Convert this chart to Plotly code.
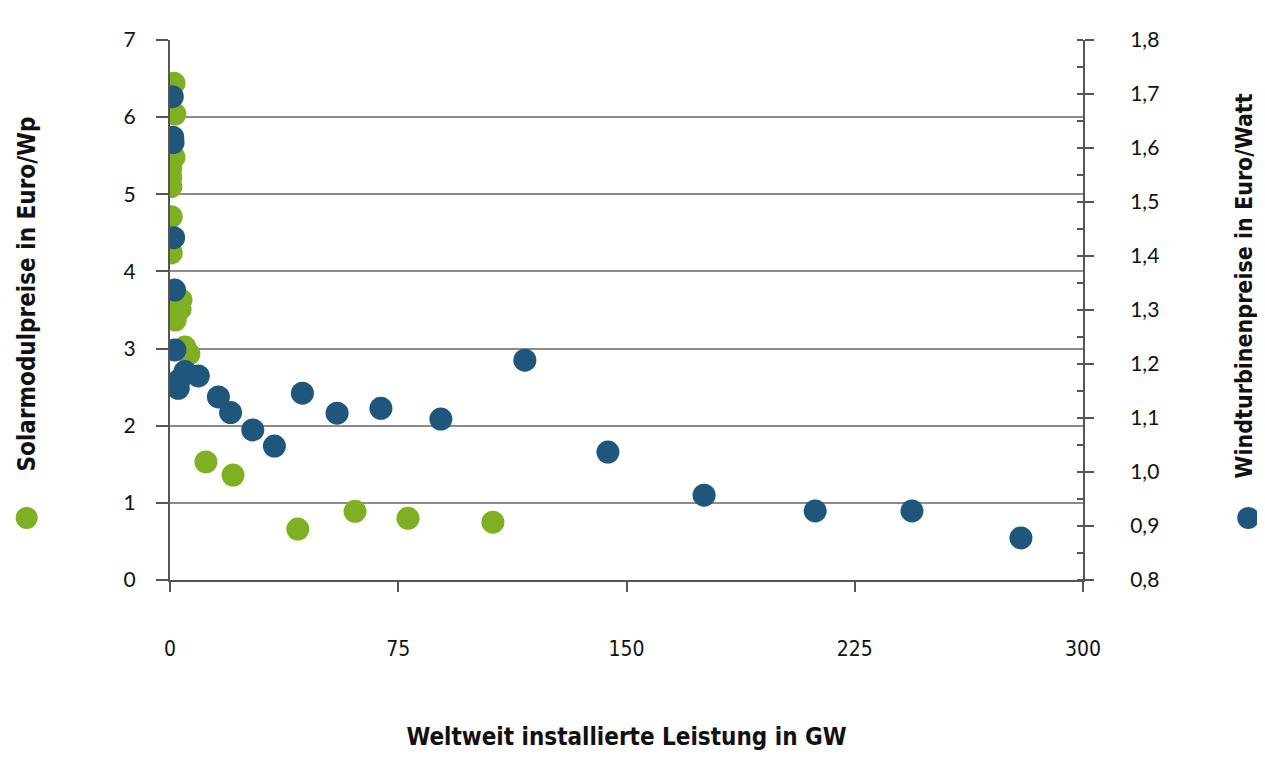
import plotly.graph_objects as go

# Solar module prices (left axis, Euro/Wp) vs. world installed capacity (GW)
solar_gw = [1.3, 1.6, 1.3, 0.2, 0.25, 0.3, 0.4, 0.4, 3.6, 3.3, 1.7, 4.9, 6.2, 11.8, 20.7, 42.0, 60.8, 78.2, 106.1]
solar_price = [6.44, 6.04, 5.48, 5.33, 5.22, 5.10, 4.71, 4.24, 3.63, 3.51, 3.37, 3.02, 2.93, 1.53, 1.36, 0.66, 0.89, 0.80, 0.75]

# Wind turbine prices (right axis, Euro/Watt) vs. world installed capacity (GW)
wind_gw = [0.75, 0.9, 1.0, 1.2, 1.5, 1.6, 2.7, 3.0, 4.9, 9.3, 15.9, 19.9, 27.2, 34.3, 43.5, 54.9, 69.3, 89.0, 116.6, 143.9, 175.5, 212.0, 243.8, 279.6]
wind_price = [1.695, 1.62, 1.61, 1.434, 1.337, 1.226, 1.155, 1.17, 1.186, 1.178, 1.139, 1.11, 1.078, 1.048, 1.146, 1.109, 1.118, 1.098, 1.207, 1.037, 0.957, 0.928, 0.928, 0.878]

x_ticks = [0, 75, 150, 225, 300]
left_ticks = [0, 1, 2, 3, 4, 5, 6, 7]
right_ticks = [0.8, 0.9, 1.0, 1.1, 1.2, 1.3, 1.4, 1.5, 1.6, 1.7, 1.8]

GREEN = "#7fb024"
BLUE = "#1f567c"
AXIS = "#555555"
GRID = "#8c8c8c"
COND = "DejaVu Sans Condensed, Liberation Sans Narrow, Arial Narrow, sans-serif"
TICKFONT = "Lato, Open Sans, sans-serif"

fig = go.Figure()
fig.add_trace(go.Scatter(
    x=wind_gw, y=wind_price, mode="markers", yaxis="y2",
    marker=dict(size=23, color=BLUE, line=dict(width=0)),
    name="Windturbinenpreise in Euro/Watt",
))
fig.add_trace(go.Scatter(
    x=solar_gw, y=solar_price, mode="markers", yaxis="y",
    marker=dict(size=23, color=GREEN, line=dict(width=0)),
    name="Solarmodulpreise in Euro/Wp",
))

fig.update_layout(
    width=1257, height=756,
    margin=dict(l=162, r=182, t=32, b=184),
    paper_bgcolor="white", plot_bgcolor="white",
    showlegend=False,
    separators=",.",
    xaxis=dict(
        range=[0, 300], tickvals=x_ticks, ticks="outside", ticklen=10,
        tickcolor=AXIS, tickwidth=1.5,
        showline=True, linecolor=AXIS, linewidth=2,
        showgrid=False, zeroline=False,
        ticklabelstandoff=39,
        tickfont=dict(family=COND, size=21, color="#111111"),
        title=dict(text="<b>Weltweit installierte Leistung in GW</b>",
                   font=dict(family=COND, size=24, color="#111111"), standoff=68),
    ),
    yaxis=dict(
        range=[0, 7], tickvals=left_ticks, ticks="outside", ticklen=12,
        tickcolor=AXIS, tickwidth=1.5,
        showline=True, linecolor=AXIS, linewidth=2,
        showgrid=False, zeroline=False,
        ticklabelstandoff=16,
        tickfont=dict(family=TICKFONT, size=21, color="#111111"),
        minor=dict(tickvals=[1, 2, 3, 4, 5, 6], showgrid=True, gridcolor=GRID,
                   gridwidth=1.5, ticks=""),
    ),
    yaxis2=dict(
        range=[0.8, 1.8], tickvals=right_ticks, tickformat=".1f",
        overlaying="y", side="right", ticks="outside", ticklen=9,
        tickcolor=AXIS, tickwidth=1.5,
        showline=True, linecolor=AXIS, linewidth=2,
        showgrid=False, zeroline=False,
        ticklabelstandoff=32,
        tickfont=dict(family=TICKFONT, size=21, color="#111111"),
        minor=dict(dtick=0.05, ticks="inside", ticklen=6, tickcolor=AXIS),
    ),
)

# Rotated axis titles with colored legend dots
fig.add_annotation(xref="paper", yref="paper", x=-0.157, y=0.53, textangle=-90,
                   xanchor="center", yanchor="middle",
                   text="<b>Solarmodulpreise in Euro/Wp</b>", showarrow=False,
                   font=dict(family=COND, size=24, color="#111111"))
fig.add_annotation(xref="paper", yref="paper", x=1.176, y=0.545, textangle=-90,
                   xanchor="center", yanchor="middle",
                   text="<b>Windturbinenpreise in Euro/Watt</b>", showarrow=False,
                   font=dict(family=COND, size=23, color="#111111"))
for xa, col in [(-0.157, GREEN), (1.181, BLUE)]:
    fig.add_shape(type="circle", xref="paper", yref="paper",
                  xsizemode="pixel", ysizemode="pixel",
                  xanchor=xa, yanchor=0.115, x0=-11, x1=11, y0=-11, y1=11,
                  fillcolor=col, line=dict(width=0))

fig.write_html("out.html")
